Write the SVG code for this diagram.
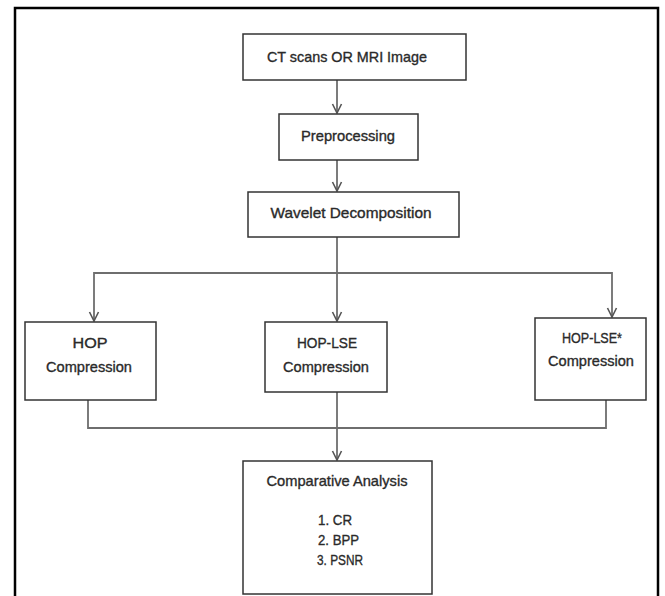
<svg xmlns="http://www.w3.org/2000/svg" width="665" height="596" viewBox="0 0 665 596">
<style>
.box{fill:#fff;stroke:#333;stroke-width:1.5}
.t{font-family:"Liberation Sans",Arial,sans-serif;font-size:15px;fill:#2a2a2a;stroke:#2a2a2a;stroke-width:0.35;text-anchor:middle}
.l{font-family:"Liberation Sans",Arial,sans-serif;font-size:15px;fill:#2a2a2a;stroke:#2a2a2a;stroke-width:0.35;text-anchor:start}
.c{fill:none;stroke:#6e6e6e;stroke-width:1.8}
</style>
<defs>
<marker id="arr" markerUnits="userSpaceOnUse" viewBox="-11 -6 12 12" refX="0" refY="0" markerWidth="12" markerHeight="12" orient="auto">
<path d="M-9,-4.5 L0,0 L-9,4.5" fill="none" stroke="#555" stroke-width="1.6"/>
</marker>
</defs>
<rect x="0" y="0" width="665" height="596" fill="#fff"/>
<rect x="15" y="8" width="643" height="600" fill="none" stroke="#000" stroke-width="2.5"/>
<g id="connectors">
<line class="c" x1="337" y1="80" x2="337" y2="113" marker-end="url(#arr)"/>
<line class="c" x1="337" y1="160" x2="337" y2="191" marker-end="url(#arr)"/>
<line class="c" x1="337" y1="237" x2="337" y2="321" marker-end="url(#arr)"/>
<line class="c" x1="94" y1="273" x2="612" y2="273"/>
<line class="c" x1="94" y1="272.1" x2="94" y2="321" marker-end="url(#arr)"/>
<line class="c" x1="612" y1="272.1" x2="612" y2="317" marker-end="url(#arr)"/>
<path class="c" d="M88,400 V428 H606 V400"/>
<line class="c" x1="337" y1="392" x2="337" y2="460" marker-end="url(#arr)"/>
</g>
<g id="node-ct">
<rect class="box" x="243" y="34" width="223" height="46"/>
<text class="t" x="347" y="62" textLength="160" lengthAdjust="spacingAndGlyphs">CT scans OR MRI Image</text>
</g>
<g id="node-pre">
<rect class="box" x="279" y="114" width="139" height="46"/>
<text class="t" x="348" y="141" textLength="94" lengthAdjust="spacingAndGlyphs">Preprocessing</text>
</g>
<g id="node-wavelet">
<rect class="box" x="248" y="192" width="211" height="45"/>
<text class="t" x="351" y="218" textLength="161" lengthAdjust="spacingAndGlyphs">Wavelet Decomposition</text>
</g>
<g id="node-hop">
<rect class="box" x="25" y="322" width="131" height="78"/>
<text class="t" x="90" y="348" textLength="35" lengthAdjust="spacingAndGlyphs">HOP</text>
<text class="t" x="89" y="372" textLength="86" lengthAdjust="spacingAndGlyphs">Compression</text>
</g>
<g id="node-hoplse">
<rect class="box" x="265" y="322" width="122" height="70"/>
<text class="t" x="327" y="348" textLength="60" lengthAdjust="spacingAndGlyphs">HOP-LSE</text>
<text class="t" x="326" y="372" textLength="86" lengthAdjust="spacingAndGlyphs">Compression</text>
</g>
<g id="node-hoplse-star">
<rect class="box" x="535" y="318" width="111" height="82"/>
<text class="t" x="592" y="343" textLength="60" lengthAdjust="spacingAndGlyphs">HOP-LSE*</text>
<text class="t" x="591" y="366" textLength="86" lengthAdjust="spacingAndGlyphs">Compression</text>
</g>
<g id="node-analysis">
<rect class="box" x="243" y="461" width="189" height="133"/>
<text class="t" x="337" y="486" textLength="141" lengthAdjust="spacingAndGlyphs">Comparative Analysis</text>
<text class="l" x="318" y="525" textLength="34" lengthAdjust="spacingAndGlyphs">1. CR</text>
<text class="l" x="318" y="545" textLength="41" lengthAdjust="spacingAndGlyphs">2. BPP</text>
<text class="l" x="317" y="565" textLength="46" lengthAdjust="spacingAndGlyphs">3. PSNR</text>
</g>
</svg>
